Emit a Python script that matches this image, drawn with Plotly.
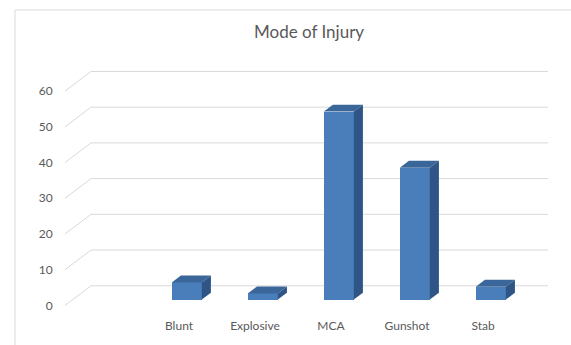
import plotly.graph_objects as go

# ---- data ----
categories = ["Blunt", "Explosive", "MCA", "Gunshot", "Stab"]
values = [4.8, 1.7, 52.6, 36.9, 3.6]
y_ticks = [0, 10, 20, 30, 40, 50, 60]
title_text = "Mode of Injury"

# ---- styling / pseudo-3D geometry (data units) ----
FRONT = "#4a7ebb"
TOP = "#3b6699"
SIDE = "#2e5586"
GRID = "#d9d9d9"
TXT = "#595959"
FONT = "Lato"

X_MIN, X_MAX = -1.5, 4.855
Y_MIN, Y_MAX = -1.0, 68.7
DX, DY = 0.342, 5.5        # full wall depth offset
F1, F2 = 0.30, 0.65        # bar front / back depth fractions
W = 0.395                  # bar width

fig = go.Figure()

# walls gridlines (side wall diagonal + back wall horizontal), drawn below the bars
shapes = []
for v in y_ticks:
    shapes.append(dict(type="line", xref="x", yref="y", layer="below",
                       x0=X_MIN, y0=v, x1=X_MIN + DX, y1=v + DY,
                       line=dict(color=GRID, width=1)))
    shapes.append(dict(type="line", xref="x", yref="y", layer="below",
                       x0=X_MIN + DX, y0=v + DY, x1=X_MAX, y1=v + DY,
                       line=dict(color=GRID, width=1)))

# front faces
xs = list(range(len(categories)))
fig.add_trace(go.Bar(x=[i + F1 * DX for i in xs], y=values, base=F1 * DY, width=W,
                     marker=dict(color=FRONT, line=dict(width=0)), showlegend=False))

ddx, ddy = (F2 - F1) * DX, (F2 - F1) * DY
for i, v in zip(xs, values):
    xl = i + F1 * DX - W / 2
    xr = xl + W
    yb = F1 * DY
    yt = yb + v
    # top face
    fig.add_trace(go.Scatter(x=[xl, xr, xr + ddx, xl + ddx, xl],
                             y=[yt, yt, yt + ddy, yt + ddy, yt],
                             fill="toself", fillcolor=TOP, mode="lines",
                             line=dict(width=0, color=TOP), hoverinfo="skip", showlegend=False))
    # side face
    fig.add_trace(go.Scatter(x=[xr, xr, xr + ddx, xr + ddx, xr],
                             y=[yb, yt, yt + ddy, yb + ddy, yb],
                             fill="toself", fillcolor=SIDE, mode="lines",
                             line=dict(width=0, color=SIDE), hoverinfo="skip", showlegend=False))

# chart border (top and left edges visible)
shapes += [
    dict(type="line", xref="paper", yref="paper",
         x0=(15 - 65) / 483, x1=(600 - 65) / 483,
         y0=(313.64 - 9) / 253.7, y1=(313.64 - 9) / 253.7,
         line=dict(color=GRID, width=1)),
    dict(type="line", xref="paper", yref="paper",
         x0=(15 - 65) / 483, x1=(15 - 65) / 483,
         y0=(313.64 - 9) / 253.7, y1=(313.64 - 400) / 253.7,
         line=dict(color=GRID, width=1)),
]

fig.update_layout(
    width=571, height=345,
    margin=dict(l=65, r=23, t=60, b=31),
    paper_bgcolor="white", plot_bgcolor="white",
    font=dict(family=FONT, color=TXT, size=12),
    xaxis=dict(range=[X_MIN, X_MAX], tickvals=xs, ticktext=categories,
               showgrid=False, zeroline=False, showline=False,
               ticks="outside", ticklen=6, tickcolor="rgba(0,0,0,0)",
               tickfont=dict(size=12, color=TXT)),
    yaxis=dict(range=[Y_MIN, Y_MAX], tickvals=y_ticks,
               showgrid=False, zeroline=False, showline=False,
               ticks="outside", ticklen=9, tickcolor="rgba(0,0,0,0)",
               tickfont=dict(size=12, color=TXT)),
    annotations=[dict(text=title_text, xref="paper", yref="paper",
                      x=(309 - 65) / 483, y=(313.64 - 31) / 253.7,
                      xanchor="center", yanchor="middle", showarrow=False,
                      font=dict(size=17, color=TXT, family=FONT))],
    shapes=shapes,
    bargap=0,
)

fig.write_html("out.html")
